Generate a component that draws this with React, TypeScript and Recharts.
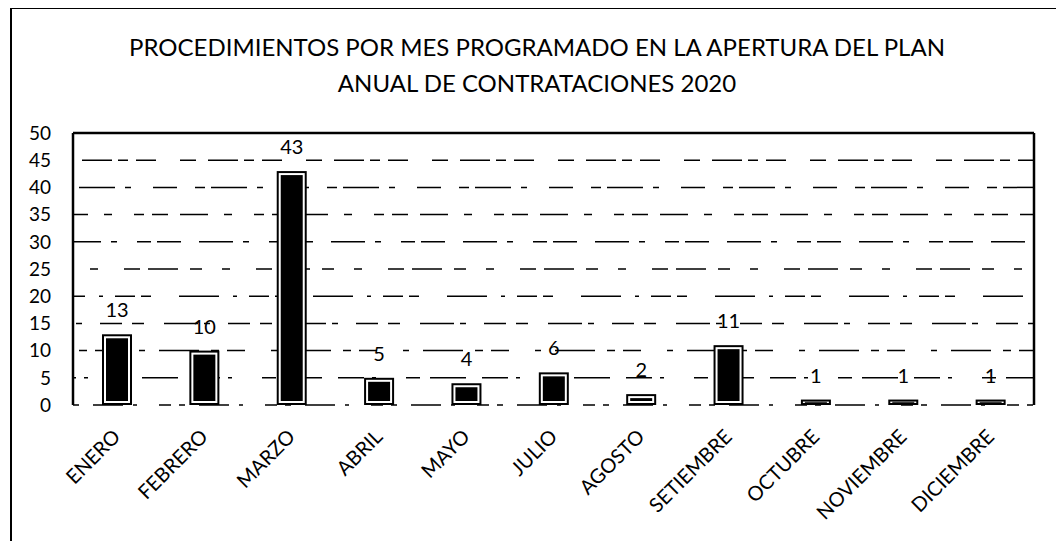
import React from "react";
import { BarChart, Bar, XAxis, YAxis, CartesianGrid, LabelList, ReferenceLine } from "recharts";

const months = ["ENERO", "FEBRERO", "MARZO", "ABRIL", "MAYO", "JULIO", "AGOSTO", "SETIEMBRE", "OCTUBRE", "NOVIEMBRE", "DICIEMBRE"];
const counts = [13, 10, 43, 5, 4, 6, 2, 11, 1, 1, 1];
const yTicks = [0, 5, 10, 15, 20, 25, 30, 35, 40, 45, 50];
const titleLines = ["PROCEDIMIENTOS POR MES PROGRAMADO EN LA APERTURA DEL PLAN", "ANUAL DE CONTRATACIONES 2020"];

const data = months.map((m, i) => ({ mes: m, value: counts[i] }));

const FONT = "Lato, 'Liberation Sans', sans-serif";
const DASHES = [
  "6 14 30 10 4 22 12 8",
  "26 8 4 30 14 10 36 16",
  "40 12 8 8 18 26 6 14",
  "12 20 34 6 6 18 22 10",
  "20 6 10 28 40 14 4 12",
  "8 26 16 8 30 12 12 20",
  "34 10 6 20 14 6 24 18",
  "16 12 28 16 8 22 10 8",
  "24 18 10 6 36 10 6 22",
  "10 8 20 24 16 12 30 6",
  "28 14 8 10 22 20 12 8",
];

const GridLine = (props: any) => {
  const { x1, x2, y1, y2, index } = props;
  const i = (index ?? 0) % DASHES.length;
  return (
    <line
      key={`g${index}`}
      x1={x1}
      x2={x2}
      y1={y1}
      y2={y2}
      stroke="#000"
      strokeWidth={1.5}
      strokeDasharray={DASHES[i]}
      strokeDashoffset={i * 23}
    />
  );
};

const DoubleBar = (props: any) => {
  const { x, y, width, height } = props;
  if (width == null || height == null) return null;
  const els: any[] = [];
  els.push(<rect key="o" x={x} y={y} width={width} height={height} fill="#000" />);
  if (height > 4) els.push(<rect key="w" x={x + 2} y={y + 2} width={width - 4} height={height - 4} fill="#fff" />);
  if (height > 8) els.push(<rect key="i" x={x + 4} y={y + 4} width={width - 8} height={height - 8} fill="#000" />);
  else if (height > 5) els.push(<rect key="l" x={x + 4} y={y + height / 2 - 0.5} width={width - 8} height={1} fill="#000" />);
  return <g>{els}</g>;
};

const XTick = (props: any) => {
  const { x, y, payload } = props;
  return (
    <g transform={`translate(${x + 5},${y})`}>
      <text x={0} y={0} textAnchor="end" transform="rotate(-45)" fontSize={20} fill="#000" fontFamily={FONT}>
        {payload.value}
      </text>
    </g>
  );
};

export default function App() {
  return (
    <div style={{ position: "relative", width: 1044, height: 560, border: "2px solid #000", marginLeft: 2, marginTop: -1, background: "#fff" }}>
      <div style={{ position: "absolute", left: 6, top: 20, width: 1038, textAlign: "center", fontFamily: FONT, fontSize: 24, lineHeight: "36px", color: "#000" }}>
        {titleLines.map((t) => (
          <div key={t}>{t}</div>
        ))}
      </div>
      <BarChart width={1044} height={560} data={data} margin={{ top: 124, right: 22, left: 0, bottom: 0 }} barCategoryGap={0}>
        <CartesianGrid vertical={false} horizontal={(p: any) => <GridLine {...p} />} />
        <XAxis dataKey="mes" height={164} tick={<XTick />} tickLine={false} axisLine={false} interval={0} tickMargin={0} tickSize={33} />
        <YAxis
          domain={[0, 50]}
          ticks={yTicks}
          width={61}
          tickLine={false}
          tickSize={0}
          tickMargin={22}
          axisLine={false}
          tick={{ fill: "#000", fontSize: 19, fontFamily: FONT }}
          interval={0}
        />
        <ReferenceLine y={50} stroke="#000" strokeWidth={2.5} />
        <ReferenceLine x={months[0]} position="start" stroke="#000" strokeWidth={2.5} />
        <ReferenceLine x={months[months.length - 1]} position="end" stroke="#000" strokeWidth={2.5} />
        <Bar dataKey="value" barSize={30} shape={<DoubleBar />} isAnimationActive={false}>
          <LabelList dataKey="value" position="top" offset={17} fill="#000" fontSize={20} fontFamily={FONT} />
        </Bar>
      </BarChart>
    </div>
  );
}
